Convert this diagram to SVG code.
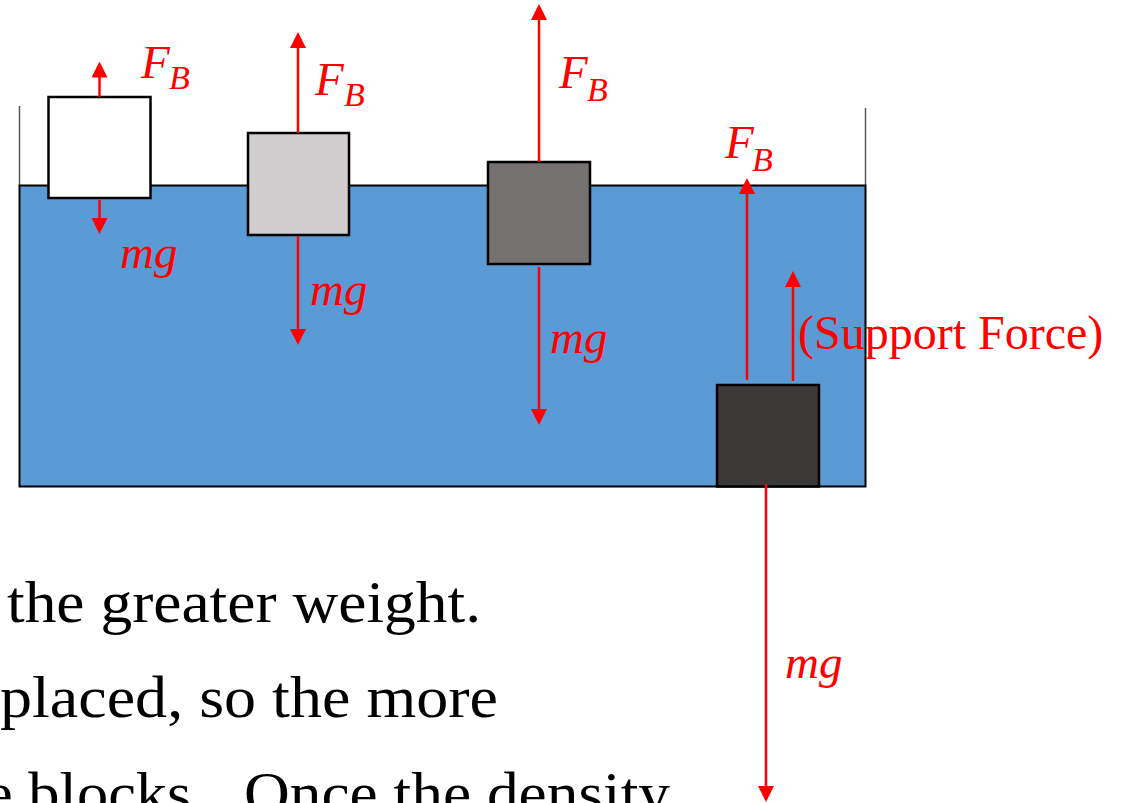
<svg xmlns="http://www.w3.org/2000/svg" width="1124" height="803" viewBox="0 0 1124 803">
<style>
.wall{stroke:#595959;stroke-width:1.5;fill:none}
.blk{stroke:#000;stroke-width:2.5}
.force{stroke:#FF0000;stroke-width:2.5;fill:none;marker-end:url(#ah)}
.it{font-family:"Liberation Serif","Times New Roman",serif;font-style:italic;fill:#FF0000}
.F{font-size:47px}
.sub{font-size:34px}
.mg{font-size:47px}
.lbl{font-family:"Liberation Serif","Times New Roman",serif;fill:#FF0000;font-size:48px}
.body{font-family:"Liberation Serif","Times New Roman",serif;fill:#000;font-size:60px}
</style>
<defs>
<marker id="ah" markerUnits="userSpaceOnUse" markerWidth="16" markerHeight="16" viewBox="0 0 16 16" refX="6" refY="8" orient="auto">
<path d="M0,0 L16,8 L0,16 z" fill="#FF0000"/>
</marker>
</defs>
<rect width="1124" height="803" fill="#fff"/>
<g id="container">
<line class="wall" x1="19.5" y1="106" x2="19.5" y2="186"/>
<line class="wall" x1="865.5" y1="108" x2="865.5" y2="186"/>
<rect x="19.5" y="185.5" width="846" height="301" fill="#5B9BD5" stroke="#000" stroke-width="2"/>
</g>
<g id="block1"><rect class="blk" x="48.5" y="97" width="102" height="101" fill="#FFFFFF"/></g>
<g id="block2"><rect class="blk" x="248" y="133" width="101" height="102" fill="#D0CECE"/></g>
<g id="block3"><rect class="blk" x="488" y="162" width="102" height="102" fill="#767171"/></g>
<g id="block4"><rect class="blk" x="717" y="385" width="102" height="101.5" fill="#3B3838"/></g>
<g id="connectors">
<line class="force" x1="99.5" y1="97" x2="99.5" y2="71.5"/>
<line class="force" x1="99.5" y1="200" x2="99.5" y2="224"/>
<line class="force" x1="298" y1="133" x2="298" y2="42"/>
<line class="force" x1="298" y1="236" x2="298" y2="335"/>
<line class="force" x1="539" y1="162" x2="539" y2="14"/>
<line class="force" x1="539" y1="267" x2="539" y2="415"/>
<line class="force" x1="747" y1="380" x2="747" y2="188"/>
<line class="force" x1="793" y1="381" x2="793" y2="281"/>
<line class="force" x1="766" y1="484" x2="766" y2="792"/>
</g>
<g id="labels">
<text class="it F" x="141" y="78">F</text><text class="it sub" x="169" y="89">B</text>
<text class="it F" x="315" y="95">F</text><text class="it sub" x="344" y="106">B</text>
<text class="it F" x="559" y="88">F</text><text class="it sub" x="587" y="101">B</text>
<text class="it F" x="725" y="158">F</text><text class="it sub" x="752" y="171">B</text>
<text class="it mg" x="120" y="268">mg</text>
<text class="it mg" x="310" y="305">mg</text>
<text class="it mg" x="550" y="353">mg</text>
<text class="it mg" x="785" y="678">mg</text>
<text class="lbl" x="798" y="349">(Support Force)</text>
</g>
<g id="body-text">
<text class="body" x="7" y="622" textLength="474" lengthAdjust="spacingAndGlyphs">the greater weight.</text>
<text class="body" x="0" y="717" textLength="498" lengthAdjust="spacingAndGlyphs">placed, so the more</text>
<text class="body" x="-15" y="813" textLength="222" lengthAdjust="spacingAndGlyphs">e blocks.</text>
<text class="body" x="244" y="813" textLength="426" lengthAdjust="spacingAndGlyphs">Once the density</text>
</g>
</svg>
